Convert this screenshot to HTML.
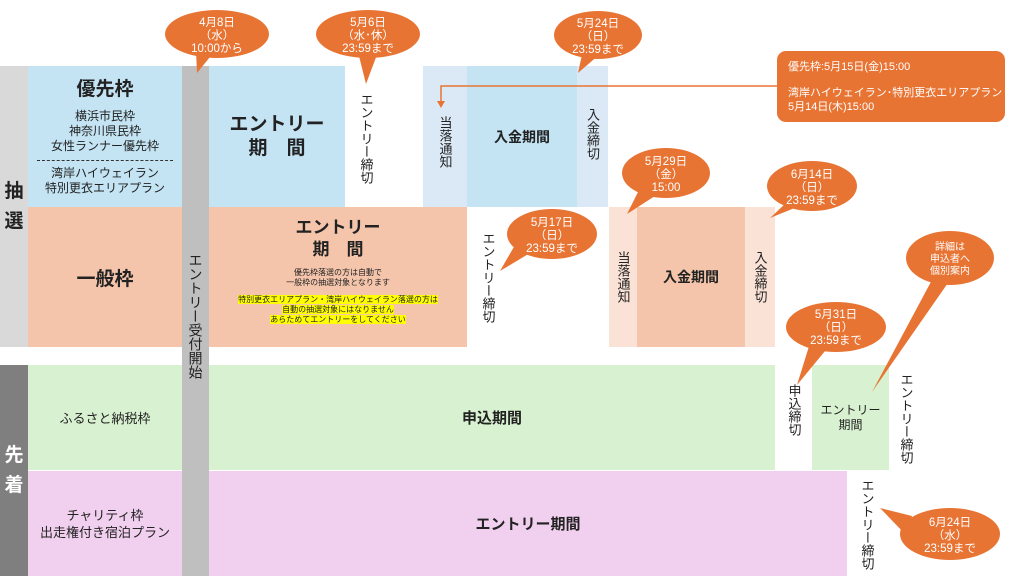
<!DOCTYPE html>
<html><head><meta charset="utf-8"><style>
body{margin:0;width:1024px;height:576px;position:relative;overflow:hidden;background:#fff;font-family:"Liberation Sans","Noto Sans CJK JP",sans-serif;color:#222}
.b{position:absolute;display:flex;align-items:center;justify-content:center;text-align:center;flex-direction:column}
.v{writing-mode:vertical-rl;font-size:13px;letter-spacing:0;line-height:1;white-space:nowrap}
svg{position:absolute;left:0;top:0}
.c{fill:#e87434}
.ct{fill:#fff;font-size:11.5px;text-anchor:middle;font-family:"Liberation Sans","Noto Sans CJK JP",sans-serif}
</style></head><body>
<div class="b" style="left:0;top:66px;width:28px;height:281px;background:#d9d9d9;font-size:19px;font-weight:bold;line-height:30px">抽<br>選</div>
<div class="b" style="left:0;top:365px;width:28px;height:211px;background:#7f7f7f;color:#fff;font-size:19px;font-weight:bold;line-height:30px">先<br>着</div>
<!-- row1 -->
<div class="b" style="left:28px;top:66px;width:154px;height:141px;background:#c4e4f4">
<div style="font-size:19px;font-weight:bold;margin-top:-4px">優先枠</div>
<div style="font-size:12px;line-height:15px;margin-top:8px">横浜市民枠<br>神奈川県民枠<br>女性ランナー優先枠</div>
<div style="width:136px;border-top:1px dashed #333;margin:6px 0 5px"></div>
<div style="font-size:12px;line-height:15px">湾岸ハイウェイラン<br>特別更衣エリアプラン</div></div>
<div class="b" style="left:209px;top:66px;width:136px;height:141px;background:#c4e4f4;font-size:19px;font-weight:bold;line-height:24px">エントリー<br>期　間</div>
<div class="b" style="left:356px;top:90px;width:20px;height:96px"><span class="v">エントリー締切</span></div>
<div class="b" style="left:423px;top:66px;width:44px;height:141px;background:#dbe9f6"><span class="v" style="margin-top:10px">当落通知</span></div>
<div class="b" style="left:467px;top:66px;width:110px;height:141px;background:#c4e4f4;font-size:14px;font-weight:bold">入金期間</div>
<div class="b" style="left:577px;top:66px;width:31px;height:141px;background:#dbe9f6"><span class="v" style="margin-top:-6px">入金締切</span></div>
<!-- row2 -->
<div class="b" style="left:28px;top:207px;width:154px;height:140px;background:#f5c5ab;font-size:19px;font-weight:bold">一般枠</div>
<div class="b" style="left:209px;top:207px;width:258px;height:140px;background:#f5c5ab;justify-content:flex-start">
<div style="font-size:17px;font-weight:bold;line-height:22px;margin-top:10px">エントリー<br>期　間</div>
<div style="font-size:8px;line-height:10px;margin-top:7px">優先枠落選の方は自動で<br>一般枠の抽選対象となります</div>
<div style="font-size:8px;line-height:10px;margin-top:7px"><span style="background:#ffff00">特別更衣エリアプラン・湾岸ハイウェイラン落選の方は</span><br><span style="background:#ffff00">自動の抽選対象にはなりません</span><br><span style="background:#ffff00">あらためてエントリーをしてください</span></div></div>
<div class="b" style="left:478px;top:229px;width:20px;height:96px"><span class="v">エントリー締切</span></div>
<div class="b" style="left:609px;top:207px;width:28px;height:140px;background:#fbe2d6"><span class="v">当落通知</span></div>
<div class="b" style="left:637px;top:207px;width:108px;height:140px;background:#f5c5ab;font-size:14px;font-weight:bold">入金期間</div>
<div class="b" style="left:745px;top:207px;width:30px;height:140px;background:#fbe2d6"><span class="v">入金締切</span></div>
<!-- gray column -->
<div class="b" style="left:182px;top:66px;width:27px;height:510px;background:#bfbfbf"><span class="v" style="font-size:14px;margin-top:-10px">エントリー受付開始</span></div>
<!-- row3 -->
<div class="b" style="left:28px;top:365px;width:154px;height:105px;background:#d8f1d0;font-size:13px">ふるさと納税枠</div>
<div class="b" style="left:209px;top:365px;width:566px;height:105px;background:#d8f1d0;font-size:15px;font-weight:bold">申込期間</div>
<div class="b" style="left:784px;top:370px;width:20px;height:80px"><span class="v">申込締切</span></div>
<div class="b" style="left:812px;top:365px;width:77px;height:105px;background:#d8f1d0;font-size:12px;line-height:15px">エントリー<br>期間</div>
<div class="b" style="left:896px;top:370px;width:20px;height:96px"><span class="v">エントリー締切</span></div>
<!-- row4 -->
<div class="b" style="left:28px;top:471px;width:154px;height:105px;background:#f1cfee;font-size:13px;line-height:17px">チャリティ枠<br>出走権付き宿泊プラン</div>
<div class="b" style="left:209px;top:471px;width:638px;height:105px;background:#f1cfee;font-size:15px;font-weight:bold">エントリー期間</div>
<div class="b" style="left:857px;top:476px;width:20px;height:96px"><span class="v">エントリー締切</span></div>
<svg width="1024" height="576">
<g class="c">
<ellipse cx="217" cy="34" rx="52" ry="24"/><polygon points="196,50 214,52 197,73"/>
<ellipse cx="368" cy="34" rx="52" ry="24"/><polygon points="358,52 378,52 366,84"/>
<ellipse cx="598" cy="35" rx="44" ry="24"/><polygon points="583,50 600,54 578,73"/>
<rect x="777" y="51" width="228" height="71" rx="9"/>
<ellipse cx="666" cy="173" rx="44" ry="25"/><polygon points="640,188 658,194 627,214"/>
<ellipse cx="812" cy="186" rx="45" ry="25"/><polygon points="786,203 802,205 770,218"/>
<ellipse cx="552" cy="234" rx="45" ry="25"/><polygon points="515,245 530,253 500,271"/>
<ellipse cx="950" cy="258" rx="44" ry="27"/><polygon points="933,278 950,280 872,392"/>
<ellipse cx="836" cy="327" rx="50" ry="25"/><polygon points="810,343 830,345 797,385"/>
<ellipse cx="950" cy="534" rx="50" ry="26"/><polygon points="880,508 912,516 906,535"/>
</g>
<polyline points="777,86 441,86 441,102" fill="none" stroke="#e87434" stroke-width="1.5"/>
<polygon points="437,101 445,101 441,108" fill="#e87434"/>
<g class="ct">
<text x="217" y="26">4月8日</text><text x="217" y="39">（水）</text><text x="217" y="52">10:00から</text>
<text x="368" y="26">5月6日</text><text x="368" y="39">（水･休）</text><text x="368" y="52">23:59まで</text>
<text x="598" y="27">5月24日</text><text x="598" y="40">（日）</text><text x="598" y="53">23:59まで</text>
<text x="666" y="165">5月29日</text><text x="666" y="178">（金）</text><text x="666" y="191">15:00</text>
<text x="812" y="178">6月14日</text><text x="812" y="191">（日）</text><text x="812" y="204">23:59まで</text>
<text x="552" y="226">5月17日</text><text x="552" y="239">（日）</text><text x="552" y="252">23:59まで</text>
<text x="950" y="250" style="font-size:10px">詳細は</text><text x="950" y="262" style="font-size:10px">申込者へ</text><text x="950" y="274" style="font-size:10px">個別案内</text>
<text x="836" y="318">5月31日</text><text x="836" y="331">（日）</text><text x="836" y="344">23:59まで</text>
<text x="950" y="526">6月24日</text><text x="950" y="539">（水）</text><text x="950" y="552">23:59まで</text>
</g>
<g fill="#fff" style="font-size:11px">
<text x="788" y="70">優先枠:5月15日(金)15:00</text>
<text x="788" y="96">湾岸ハイウェイラン･特別更衣エリアプラン</text>
<text x="788" y="110">5月14日(木)15:00</text>
</g>
</svg>
</body></html>
